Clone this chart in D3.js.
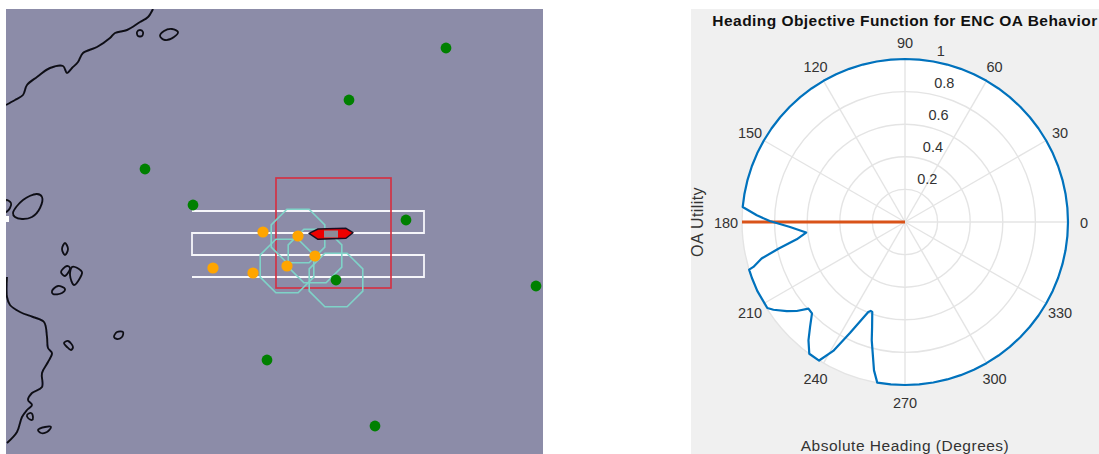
<!DOCTYPE html>
<html>
<head>
<meta charset="utf-8">
<script src="https://cdn.jsdelivr.net/npm/d3@7/dist/d3.min.js"></script>
<style>html,body{margin:0;padding:0;background:#fff;overflow:hidden}svg{display:block}text{font-family:"Liberation Sans",Arial,sans-serif}</style>
</head>
<body>
<svg id="c" width="1099" height="454"></svg>
<script>
// Polar objective function
const headings = [0,5,10,15,20,25,30,35,40,45,50,55,60,65,70,75,80,85,90,95,100,105,110,115,120,125,130,135,140,145,150,155,160,165,170,174.7,177.4,179.6,182.5,186.1,189.1,191.9,194.3,196.5,197,200,205,212,213.7,217,219.4,221.9,224.5,227.9,230.8,234,238.2,240.9,243.6,247.8,248.9,250,252.6,254.3,258.2,260.2,265,270,275,280,285,290,295,300,305,310,315,320,325,330,335,340,345,350,355,360];
const utility = [1,1,1,1,1,1,1,1,1,1,1,1,1,1,1,1,1,1,1,1,1,1,1,1,1,1,1,1,1,1,1,1,1,1,1,1,0.91,0.83,0.706,0.61,0.673,0.794,0.908,0.97,1,1,1,0.996,0.97,0.908,0.86,0.796,0.8,0.869,0.937,0.999,1,0.905,0.76,0.596,0.585,0.587,0.675,0.754,0.93,1,1,1,1,1,1,1,1,1,1,1,1,1,1,1,1,1,1,1,1,1];
const currentHeading = [180,180];
const currentUtility = [0,1];
const angleTicks = [0,30,60,90,120,150,180,210,240,270,300,330];
const radiusTicks = [0.2,0.4,0.6,0.8,1];
const radiusTickLabels = ["0.2","0.4","0.6","0.8","1"];
const titleText = "Heading Objective Function for ENC OA Behavior";
const rLabelText = "OA Utility";
const thetaLabelText = "Absolute Heading (Degrees)";

// Map scene, in map units
const greenX = [446,349,145,193,406,336,536,267,375];
const greenY = [48,100,169,205,220,280,286,360,426];
const orangeX = [263,298,315,287,253,213];
const orangeY = [232,236,256,266,273,268];
const octagonX = [298,287,315,336];
const octagonY = [236,266,256,280];
const octagonR = [29,29,29,29];
const boxX = [276,391];
const boxY = [178,288];
const pathX = [192,424,424,192,192,424,424,192];
const pathY = [211,211,233,233,255,255,277,277];
const hullX = [309,318,346,353,346,318];
const hullY = [233.3,229,228.3,232.7,238.3,239.3];
const deckX = [324,338];
const deckY = [230.5,237.5];
const coastA = [[6,105],[15,100],[23,95],[27,85],[37,77],[50,68],[63,66],[67,73],[72,68],[78,62],[83,53],[97,47],[110,38],[115,33],[127,30],[140,22],[148,17],[153,9]];
const coastB = [[7,277],[7,297],[10,305],[20,312],[33,317],[44,322],[47,337],[48,348],[52,353],[48,362],[42,373],[42,387],[32,393],[28,400],[32,405],[27,410],[22,417],[17,432],[7,443]];
const islands = [
 [[137,32],[140,30],[143,32],[142,36],[138,36]],
 [[160,36],[164,31],[172,29],[178,32],[174,37],[165,40]],
 [[13,213],[23,200],[37,194],[42,197],[40,208],[32,217],[22,219],[15,217]],
 [[6,200],[11,203],[10,208],[6,212]],
 [[62,249],[65,243],[68,249],[65,255]],
 [[61,272],[67,266],[70,268],[65,276]],
 [[75,267],[82,272],[80,278],[74,285],[70,275],[72,267]],
 [[52,291],[58,286],[65,289],[62,293],[53,294]],
 [[64,343],[68,341],[73,347],[71,350],[67,347]],
 [[114,337],[117,332],[123,332],[122,337],[117,339]],
 [[27,415],[31,413],[33,417],[32,420],[28,418]],
 [[38,430],[45,427],[51,427],[47,432],[41,433]]
];

const svg = d3.select("#c");
const defs = svg.append("defs");
defs.append("filter").attr("id","soft").attr("x","-5%").attr("y","-5%").attr("width","110%").attr("height","110%")
  .append("feGaussianBlur").attr("stdDeviation",0.55);
defs.append("clipPath").attr("id","mapClip").append("rect").attr("x",6).attr("y",9).attr("width",537).attr("height",445);

// ---- map panel
const mx = d3.scaleLinear().domain([6,543]).range([6,543]);
const my = d3.scaleLinear().domain([9,454]).range([9,454]);
svg.append("rect").attr("x",mx(6)).attr("y",my(9)).attr("width",mx(543)-mx(6)).attr("height",my(454)-my(9)).attr("fill","#8c8ca8");
const map = svg.append("g").attr("clip-path","url(#mapClip)").append("g").attr("filter","url(#soft)");
const coastLine = d3.line().x(d=>mx(d[0])).y(d=>my(d[1])).curve(d3.curveCatmullRom);
const isleLine = d3.line().x(d=>mx(d[0])).y(d=>my(d[1])).curve(d3.curveCatmullRomClosed);
map.selectAll("path.coast").data([coastA,coastB]).join("path").attr("class","coast")
  .attr("d",coastLine).attr("fill","none").attr("stroke","#0c0c14").attr("stroke-width",1.9);
map.selectAll("path.isle").data(islands).join("path").attr("class","isle")
  .attr("d",isleLine).attr("fill","none").attr("stroke","#0c0c14").attr("stroke-width",1.8);
map.append("rect").attr("x",mx(6)).attr("y",my(216)).attr("width",3).attr("height",6).attr("fill","#fff");

map.append("path").attr("d",d3.line().x((d,i)=>mx(pathX[i])).y((d,i)=>my(pathY[i]))(pathX))
  .attr("fill","none").attr("stroke","#f6f6fa").attr("stroke-width",1.8);
map.append("rect").attr("x",mx(boxX[0])).attr("y",my(boxY[0])).attr("width",mx(boxX[1])-mx(boxX[0])).attr("height",my(boxY[1])-my(boxY[0]))
  .attr("fill","none").attr("stroke","#d23446").attr("stroke-width",1.7);
const octo = d3.lineRadial().curve(d3.curveLinearClosed);
octagonX.forEach((x,i)=>{
  const pts = d3.range(8).map(k=>[(k+0.5)*Math.PI/4, mx(octagonR[i])-mx(0)]);
  map.append("path").attr("d",octo(pts)).attr("transform",`translate(${mx(x)},${my(octagonY[i])})`)
    .attr("fill","none").attr("stroke","#7fd3c8").attr("stroke-width",1.6);
});
map.selectAll("circle.g").data(greenX).join("circle").attr("class","g")
  .attr("cx",d=>mx(d)).attr("cy",(d,i)=>my(greenY[i])).attr("r",5.4).attr("fill","#008000");
map.selectAll("circle.o").data(orangeX).join("circle").attr("class","o")
  .attr("cx",d=>mx(d)).attr("cy",(d,i)=>my(orangeY[i])).attr("r",5.6).attr("fill","#ffa500");
map.append("path").attr("d",d3.line().x((d,i)=>mx(hullX[i])).y((d,i)=>my(hullY[i])).curve(d3.curveLinearClosed)(hullX))
  .attr("fill","#ee0000").attr("stroke","#1a1020").attr("stroke-width",1.4).attr("stroke-linejoin","round");
map.append("rect").attr("x",mx(deckX[0])).attr("y",my(deckY[0])).attr("width",mx(deckX[1])-mx(deckX[0])).attr("height",my(deckY[1])-my(deckY[0]))
  .attr("fill","#8c8c98");

// ---- polar panel
svg.append("rect").attr("x",691).attr("y",9).attr("width",408).attr("height",445).attr("fill","#f0f0f0");
const cx = 905, cy = 222;
const r = d3.scaleLinear().domain([0,1]).range([0,163]);
const toRad = d => Math.PI/2 - d*Math.PI/180;
const g = svg.append("g").attr("transform",`translate(${cx},${cy})`);
g.append("circle").attr("r",r(1)).attr("fill","#fff");
g.selectAll("circle.grid").data(radiusTicks).join("circle").attr("class","grid")
  .attr("r",d=>r(d)).attr("fill","none").attr("stroke","#e4e4e4").attr("stroke-width",1.4);
g.selectAll("line.spoke").data(angleTicks).join("line").attr("class","spoke")
  .attr("x1",0).attr("y1",0)
  .attr("x2",d=>r(1)*Math.sin(toRad(d))).attr("y2",d=>-r(1)*Math.cos(toRad(d)))
  .attr("stroke","#e4e4e4").attr("stroke-width",1.4);
const rad = d3.lineRadial();
g.append("path").attr("d",rad(currentHeading.map((h,i)=>[toRad(h),r(currentUtility[i])])))
  .attr("fill","none").attr("stroke","#D95319").attr("stroke-width",3);
g.append("path").attr("d",rad(headings.map((h,i)=>[toRad(h),r(utility[i])])))
  .attr("fill","none").attr("stroke","#0072BD").attr("stroke-width",2.2).attr("stroke-linejoin","round");
g.selectAll("text.ang").data(angleTicks).join("text").attr("class","ang")
  .attr("x",d=>179*Math.sin(toRad(d))).attr("y",d=>-180*Math.cos(toRad(d))+2.5)
  .attr("text-anchor","middle").attr("dominant-baseline","middle")
  .attr("font-size",14.5).attr("fill","#333").text(d=>d);
g.selectAll("text.rad").data(radiusTicks).join("text").attr("class","rad")
  .attr("x",d=>r(d)*Math.sin(toRad(80))+(d===1?3.5:6.5)).attr("y",d=>-r(d)*Math.cos(toRad(80))-9.5)
  .attr("dominant-baseline","middle").attr("font-size",14.5).attr("fill","#333")
  .text((d,i)=>radiusTickLabels[i]);
svg.append("text").attr("x",905).attr("y",26).attr("text-anchor","middle").attr("font-size",15.5).attr("letter-spacing",0.45).attr("font-weight","bold").attr("fill","#111").text(titleText);
svg.append("text").attr("transform","translate(703,222) rotate(-90)").attr("text-anchor","middle").attr("font-size",16).attr("letter-spacing",0.4).attr("fill","#333").text(rLabelText);
svg.append("text").attr("x",905).attr("y",450.5).attr("text-anchor","middle").attr("font-size",15.5).attr("letter-spacing",0.5).attr("fill","#333").text(thetaLabelText);
</script>
</body>
</html>
